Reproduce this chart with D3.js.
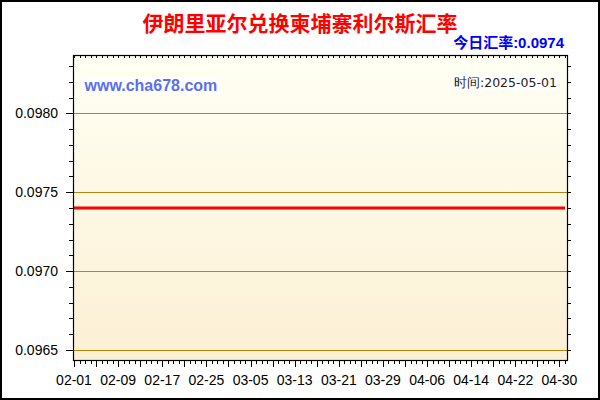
<!DOCTYPE html>
<html>
<head>
<meta charset="utf-8">
<script src="https://cdn.jsdelivr.net/npm/d3@7"></script>
<style>
  html, body { margin: 0; padding: 0; background: #fff; }
  svg { display: block; }
</style>
</head>
<body>
<svg id="chart" width="600" height="400"></svg>
<script>
// ---- data ----
const titleText = "伊朗里亚尔兑换柬埔寨利尔斯汇率";
const todayLabel = "今日汇率:0.0974";
const timeLabel = "时间:2025-05-01";
const watermark = "www.cha678.com";
const dates = ["2025-02-01","2025-02-09","2025-02-17","2025-02-25","2025-03-05","2025-03-13",
               "2025-03-21","2025-03-29","2025-04-06","2025-04-14","2025-04-22","2025-04-30","2025-05-01"];
const rates = [0.0974,0.0974,0.0974,0.0974,0.0974,0.0974,0.0974,0.0974,0.0974,0.0974,0.0974,0.0974,0.0974];
const xDomain = ["2025-02-01","2025-05-01"];
const yDomain = [0.09643, 0.09837];
const yTickLabels = [0.0965, 0.0970, 0.0975, 0.0980];
const xTickLabels = ["02-01","02-09","02-17","02-25","03-05","03-13","03-21","03-29","04-06","04-14","04-22","04-30"];

// ---- layout ----
const W = 600, H = 400;
const L = 73, R = 568, T = 55, B = 361;
const parse = d3.utcParse("%Y-%m-%d");
const svg = d3.select("#chart");

const x = d3.scaleUtc().domain(xDomain.map(parse)).range([74, 565]);
const y = d3.scaleLinear().domain(yDomain).range([B, T]);

// outer border
svg.append("rect").attr("x",1).attr("y",1).attr("width",W-2).attr("height",H-2)
  .attr("fill","#fff").attr("stroke","#000").attr("stroke-width",2);

// background gradient
const defs = svg.append("defs");
const grad = defs.append("linearGradient").attr("id","bg").attr("x1",0).attr("y1",0).attr("x2",0).attr("y2",1);
grad.append("stop").attr("offset","0%").attr("stop-color","#fffff3");
grad.append("stop").attr("offset","100%").attr("stop-color","#fcf0d4");
svg.append("rect").attr("x",L).attr("y",T).attr("width",R-L).attr("height",B-T).attr("fill","url(#bg)");

// gridlines
svg.append("g").selectAll("line").data(yTickLabels).join("line")
  .attr("x1",L).attr("x2",R)
  .attr("y1",d=>Math.round(y(d))+0.5).attr("y2",d=>Math.round(y(d))+0.5)
  .attr("stroke","#b8860b").attr("stroke-width",1);

// watermark
svg.append("rect").attr("x",82).attr("y",77).attr("width",140).attr("height",17).attr("fill","#fff");
svg.append("text").attr("x",84.5).attr("y",91).text(watermark)
  .attr("font-family","'Liberation Sans', Arial, sans-serif").attr("font-weight","bold")
  .attr("font-size",16).attr("fill","#5a6ff0");

// time label
svg.append("rect").attr("x",452).attr("y",73).attr("width",106).attr("height",17).attr("fill","#fff");
svg.append("text").attr("x",454).attr("y",86.5).text(timeLabel)
  .attr("font-family","'DejaVu Sans', sans-serif").attr("font-size",12.5).attr("fill","#222");

// data line
const line = d3.line().x(d=>x(parse(d[0]))).y(d=>y(d[1]));
svg.append("path").datum(dates.map((d,i)=>[d,rates[i]]))
  .attr("d",line).attr("fill","none").attr("stroke","#ff0000").attr("stroke-width",3);

// frame
svg.append("rect").attr("x",L+0.5).attr("y",T+0.5).attr("width",R-L-1).attr("height",B-T-1)
  .attr("fill","none").attr("stroke","#000").attr("stroke-width",1.2);

// Y ticks (left outward, right outward)
const yMinor = d3.range(0.0965, 0.09837, 0.0001).map(v=>+v.toFixed(4));
const yMinorAll = [0.0964].concat(yMinor).filter(v=>v>=yDomain[0] && v<=yDomain[1]);
const gTicks = svg.append("g").attr("stroke","#000").attr("stroke-width",1);
yMinorAll.forEach(v=>{
  const yy = Math.round(y(v))+0.5;
  const major = yTickLabels.some(t=>Math.abs(t-v)<1e-7);
  gTicks.append("line").attr("x1",L-(major?7:4)).attr("x2",L).attr("y1",yy).attr("y2",yy);
  gTicks.append("line").attr("x1",R).attr("x2",R+3).attr("y1",yy).attr("y2",yy);
});

// X ticks (bottom outward, top inward)
const days = d3.utcDay.range(parse(xDomain[0]), d3.utcDay.offset(parse(xDomain[1]),1));
days.forEach((d,i)=>{
  const xx = Math.round(x(d))+0.5;
  const major = i % 4 === 0;
  gTicks.append("line").attr("x1",xx).attr("x2",xx).attr("y1",B).attr("y2",B+(major?6:3));
  gTicks.append("line").attr("x1",xx).attr("x2",xx).attr("y1",T).attr("y2",T+3);
});

// Y labels
svg.append("g").selectAll("text").data(yTickLabels).join("text")
  .attr("x",58).attr("y",d=>y(d)+5).attr("text-anchor","end")
  .attr("font-family","'Liberation Sans', Arial, sans-serif").attr("font-size",14).attr("fill","#000")
  .text(d=>d3.format(".4f")(d));

// X labels
svg.append("g").selectAll("text").data(xTickLabels).join("text")
  .attr("x",(d,i)=>x(d3.utcDay.offset(parse(xDomain[0]), i*8)))
  .attr("y",384.5).attr("text-anchor","middle")
  .attr("font-family","'Liberation Sans', Arial, sans-serif").attr("font-size",14).attr("fill","#000")
  .text(d=>d);

// titles
svg.append("text").attr("x",300).attr("y",31).attr("text-anchor","middle").text(titleText)
  .attr("font-family","'Noto Sans CJK SC', sans-serif").attr("font-weight","bold")
  .attr("font-size",21).attr("fill","#ff0000");
svg.append("text").attr("x",564).attr("y",48).attr("text-anchor","end").text(todayLabel)
  .attr("font-family","'Liberation Sans', 'Noto Sans CJK SC', sans-serif").attr("font-weight","bold")
  .attr("font-size",15).attr("fill","#0000ff");
</script>
</body>
</html>
